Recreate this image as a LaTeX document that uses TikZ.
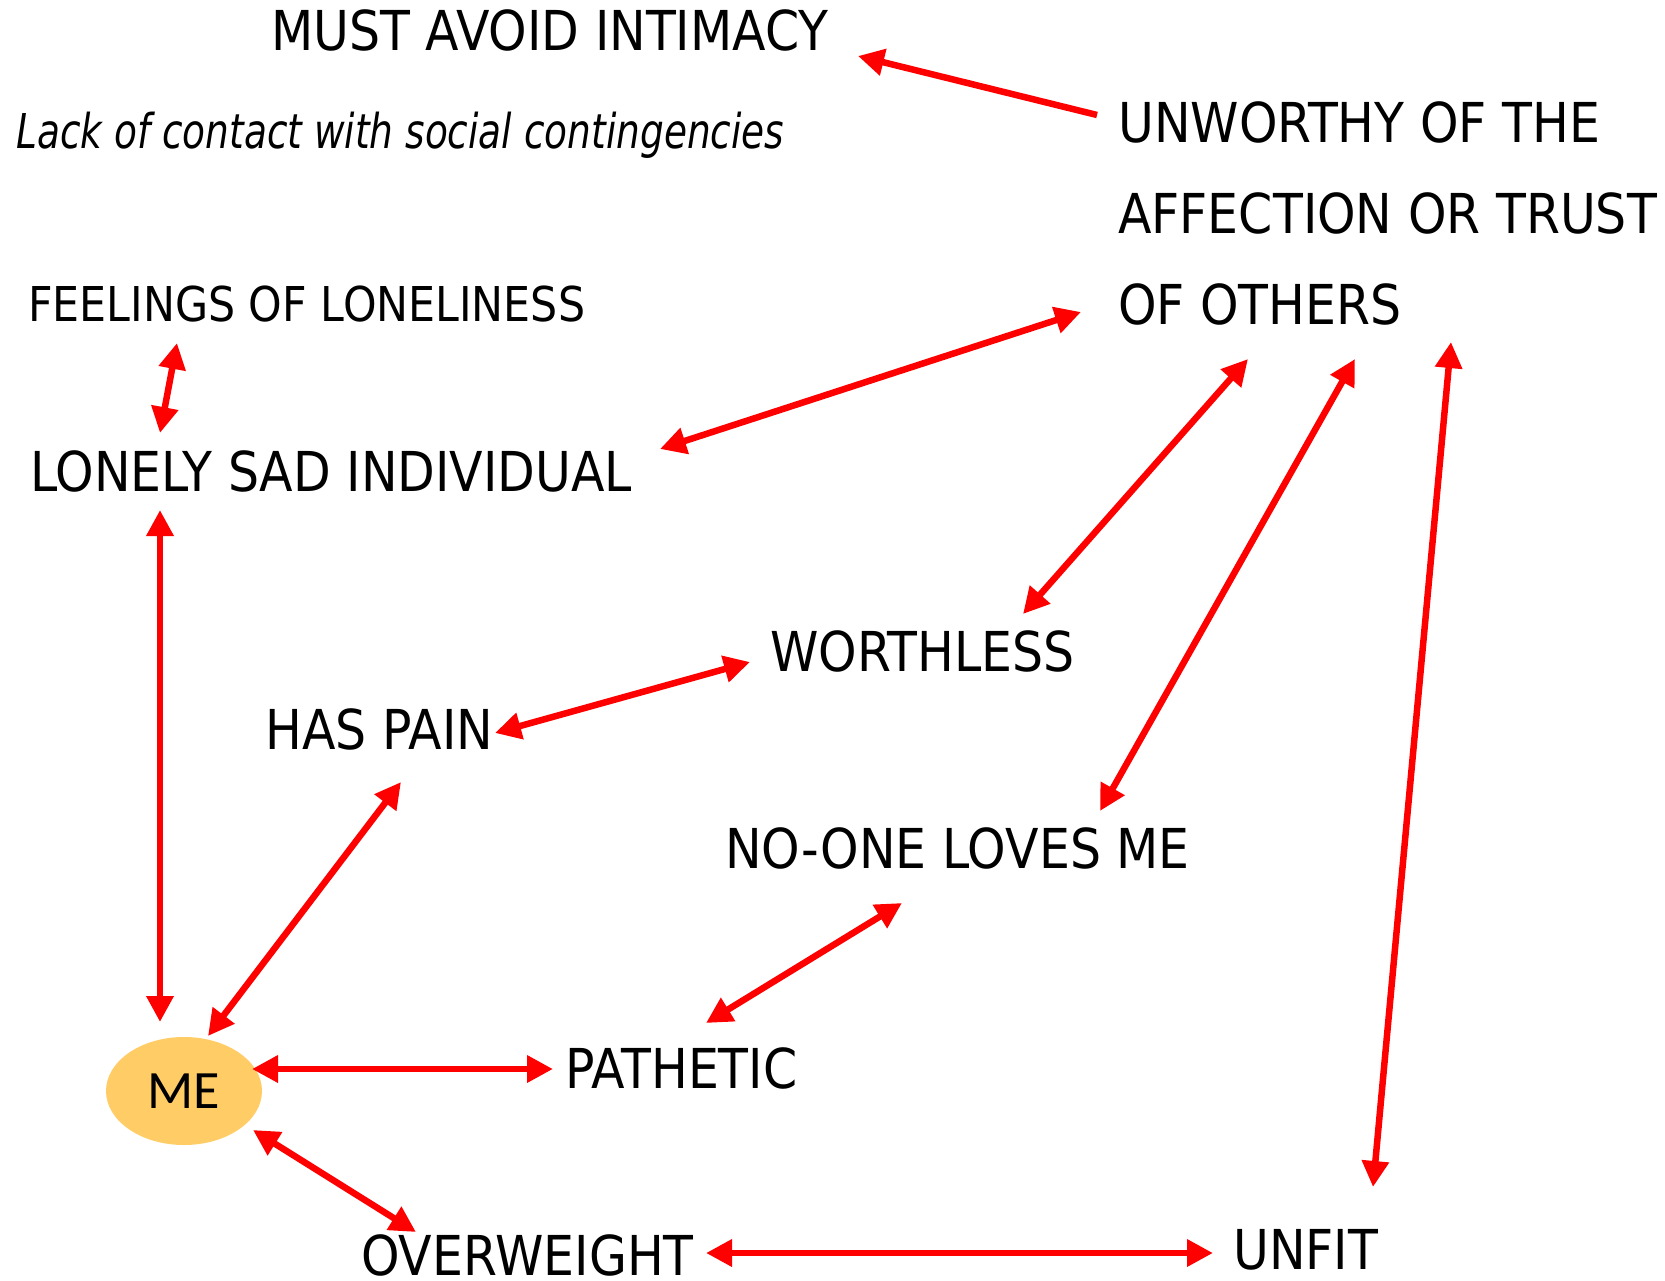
\documentclass[tikz,border=0pt]{standalone}
\usepackage{fontspec}
\setmainfont{DejaVu Sans}[FakeStretch=0.89]
\newfontfamily\lackfont{DejaVu Sans}[FakeStretch=0.78]
\newfontfamily\mefont{Carlito}
\usetikzlibrary{arrows.meta,shapes.geometric}
\definecolor{mefill}{RGB}{255,204,102}
\begin{document}
\begin{tikzpicture}[x=1pt,y=-1pt,
  lbl/.style={anchor=base west, inner sep=0pt, font=\fontsize{55}{66}\selectfont},
  smalllbl/.style={anchor=base west, inner sep=0pt, font=\fontsize{48}{58}\selectfont},
  link/.style={draw=red, line width=6.5pt, {Triangle[length=26pt,width=26pt]}-{Triangle[length=26pt,width=26pt]}},
  oneway/.style={draw=red, line width=6.5pt, -{Triangle[length=26pt,width=26pt]}}]
  \fill[white] (0,0) rectangle (1665,1281);
  \useasboundingbox (0,0) rectangle (1665,1281);

  % labels
  \node[lbl] (must) at (271,51) {MUST AVOID INTIMACY};
  \node[smalllbl, font=\lackfont\fontsize{48}{58}\selectfont\itshape] (lack) at (16,149) {Lack of contact with social contingencies};
  \node[lbl] (unw1) at (1118,143) {UNWORTHY OF THE};
  \node[lbl] (unw2) at (1118,234) {AFFECTION OR TRUST};
  \node[lbl] (unw3) at (1118,324) {OF OTHERS};
  \node[smalllbl] (feel) at (28,321) {FEELINGS OF LONELINESS};
  \node[lbl] (lonely) at (30,491) {LONELY SAD INDIVIDUAL};
  \node[lbl] (worth) at (770,671) {WORTHLESS};
  \node[lbl] (pain) at (265,749) {HAS PAIN};
  \node[lbl] (noone) at (725,868) {NO-ONE LOVES ME};
  \node[lbl] (path) at (565,1088) {PATHETIC};
  \node[lbl] (over) at (361,1275) {OVERWEIGHT};
  \node[lbl] (unfit) at (1233,1269) {UNFIT};
  \node[ellipse, fill=mefill, minimum width=156pt, minimum height=108pt, inner sep=0pt,
        font=\mefont\fontsize{54}{60}\selectfont] (me) at (184,1091) {ME};

  % connectors
  \draw[oneway] ([shift={(-21,-28)}]unw1.base west) -- ([shift={(587,5)}]must.base west);
  \draw[link] ([shift={(630,-42)}]lonely.base west) -- ([shift={(-37,-12)}]unw3.base west);
  \draw[link] ([shift={(149,22)}]feel.base west) -- ([shift={(130,-58)}]lonely.base west);
  \draw[link] ([shift={(130,19)}]lonely.base west) -- ([shift={(-24,-69)}]me.center);
  \draw[link] ([shift={(130,35)}]unw3.base west) -- ([shift={(253,-57)}]worth.base west);
  \draw[link] ([shift={(237,35)}]unw3.base west) -- ([shift={(375,-57)}]noone.base west);
  \draw[link] ([shift={(333,18)}]unw3.base west) -- ([shift={(140,-82)}]unfit.base west);
  \draw[link] ([shift={(230,-16)}]pain.base west) -- ([shift={(-20,-9)}]worth.base west);
  \draw[link] ([shift={(136,33)}]pain.base west) -- ([shift={(24,-55)}]me.center);
  \draw[link] ([shift={(177,35)}]noone.base west) -- ([shift={(141,-65)}]path.base west);
  \draw[link] ([shift={(68,-22)}]me.center) -- ([shift={(-12,-19)}]path.base west);
  \draw[link] ([shift={(69,39)}]me.center) -- ([shift={(55,-43)}]over.base west);
  \draw[link] ([shift={(345,-22)}]over.base west) -- ([shift={(-20,-16)}]unfit.base west);
\end{tikzpicture}
\end{document}
